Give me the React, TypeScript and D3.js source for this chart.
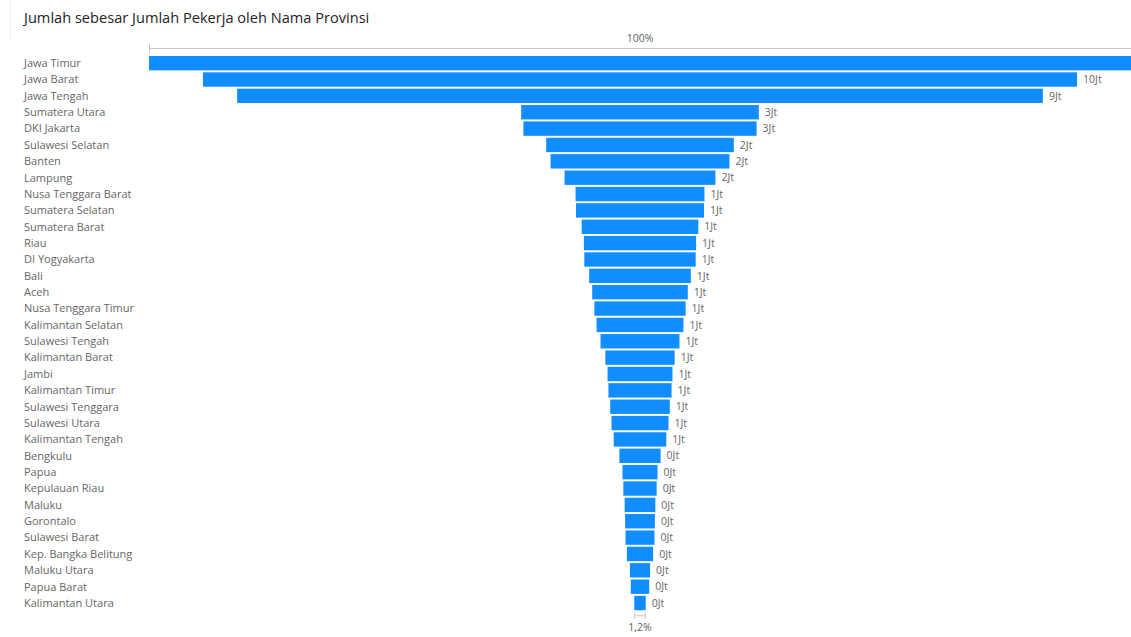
import React from "react";
import * as d3 from "d3";

const provinces = [
  "Jawa Timur", "Jawa Barat", "Jawa Tengah", "Sumatera Utara", "DKI Jakarta",
  "Sulawesi Selatan", "Banten", "Lampung", "Nusa Tenggara Barat", "Sumatera Selatan",
  "Sumatera Barat", "Riau", "DI Yogyakarta", "Bali", "Aceh",
  "Nusa Tenggara Timur", "Kalimantan Selatan", "Sulawesi Tengah", "Kalimantan Barat", "Jambi",
  "Kalimantan Timur", "Sulawesi Tenggara", "Sulawesi Utara", "Kalimantan Tengah", "Bengkulu",
  "Papua", "Kepulauan Riau", "Maluku", "Gorontalo", "Sulawesi Barat",
  "Kep. Bangka Belitung", "Maluku Utara", "Papua Barat", "Kalimantan Utara",
];

// Jumlah Pekerja, in millions (Jt)
const workers = [
  11.2, 9.97, 9.19, 2.71, 2.66,
  2.14, 2.04, 1.72, 1.47, 1.46,
  1.33, 1.28, 1.27, 1.16, 1.09,
  1.04, 0.99, 0.9, 0.79, 0.74,
  0.72, 0.68, 0.65, 0.6, 0.47,
  0.4, 0.38, 0.35, 0.34, 0.33,
  0.3, 0.23, 0.21, 0.13,
];

const topLabel = "100%";
const title = "Jumlah sebesar Jumlah Pekerja oleh Nama Provinsi";

const W = 1131;
const H = 637;
const CX = 640;
const FONT = "'Open Sans', 'Noto Sans', sans-serif";

export default function App() {
  const max = d3.max(workers) as number;
  const w = d3.scaleLinear().domain([0, max]).range([0, 982]);
  const y = d3
    .scaleBand<string>()
    .domain(provinces)
    .range([54, 54 + 16.36 * 34.12])
    .padding(0.12);
  const bw = y.bandwidth();
  const last = workers[workers.length - 1];
  const lastPct = ((last / max) * 100).toFixed(1).replace(".", ",") + "%";
  const lastW = w(last);
  const bottomY = (y(provinces[provinces.length - 1]) as number) + bw;

  return (
    <svg
      width={W}
      height={H}
      style={{ position: "absolute", left: 0, top: 0, background: "#fff" }}
      fontFamily={FONT}
    >
      <line x1={10.5} x2={10.5} y1={0} y2={38} stroke="#eeeeee" />
      <text x={24} y={23} fontSize={14.6} fill="#252423">
        {title}
      </text>
      {/* top axis */}
      <text x={CX} y={42} fontSize={10.5} fill="#605e5c" textAnchor="middle">
        {topLabel}
      </text>
      <line x1={CX - w(max) / 2} x2={W} y1={48.5} y2={48.5} stroke="#c8c6c4" />
      <line
        x1={CX - w(max) / 2 + 0.5}
        x2={CX - w(max) / 2 + 0.5}
        y1={44}
        y2={53}
        stroke="#c8c6c4"
      />
      {provinces.map((p, i) => {
        const v = workers[i];
        const yy = y(p) as number;
        const bwid = w(v);
        const lx = CX + bwid / 2 + 6;
        return (
          <g key={p}>
            <text
              x={24}
              y={yy + bw / 2}
              dy="0.35em"
              fontSize={11}
              fill="#666666"
            >
              {p}
            </text>
            <rect x={CX - bwid / 2} y={yy} width={bwid} height={bw} fill="#118dff" />
            {lx + 25 < W && (
              <text
                x={lx}
                y={yy + bw / 2}
                dy="0.35em"
                fontSize={10.5}
                fill="#666666"
              >
                {Math.round(v) + "Jt"}
              </text>
            )}
          </g>
        );
      })}
      {/* bottom bracket */}
      <line x1={CX - lastW / 2} x2={CX + lastW / 2} y1={bottomY + 5.5} y2={bottomY + 5.5} stroke="#c8c6c4" />
      <line x1={CX - lastW / 2 + 0.5} x2={CX - lastW / 2 + 0.5} y1={bottomY + 2} y2={bottomY + 9} stroke="#c8c6c4" />
      <line x1={CX + lastW / 2 - 0.5} x2={CX + lastW / 2 - 0.5} y1={bottomY + 2} y2={bottomY + 9} stroke="#c8c6c4" />
      <text x={CX} y={bottomY + 21} fontSize={10.5} fill="#605e5c" textAnchor="middle">
        {lastPct}
      </text>
    </svg>
  );
}
